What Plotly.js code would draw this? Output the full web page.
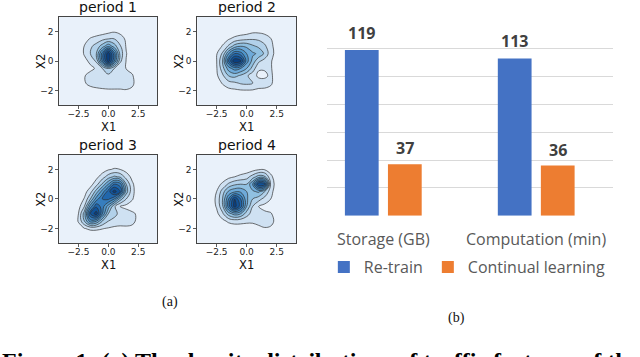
<!DOCTYPE html>
<html>
<head>
<meta charset="utf-8">
<script src="https://cdn.plot.ly/plotly-3.0.1.min.js"></script>
<style>
  html, body { margin: 0; padding: 0; background: #fff; }
  #graph { width: 640px; height: 357px; }
</style>
</head>
<body>
<div id="graph"></div>
<script>
// density grids (relative density, peak ~10)
var xGrid = [-3, -2.5, -2, -1.5, -1, -0.5, 0, 0.5, 1, 1.5, 2, 2.5, 3];
var yGrid = [-2.5, -2, -1.5, -1, -0.5, 0, 0.5, 1, 1.5, 2, 2.5];

var period1 = [
  [0, 0, 0.1, 0.2, 0.2, 0.2, 0.2, 0.2, 0.2, 0.2, 0.2, 0.1, 0],
  [0, 0.1, 0.4, 0.6, 0.75, 0.85, 0.9, 0.9, 0.9, 0.92, 0.8, 0.3, 0],
  [0, 0.2, 0.9, 1.3, 1.4, 1.4, 1.4, 1.4, 1.4, 1.5, 1.2, 0.5, 0],
  [0, 0.3, 0.95, 1.3, 1.4, 1.5, 1.7, 1.5, 1.4, 1.4, 1.1, 0.4, 0],
  [0, 0.2, 0.5, 0.8, 1.1, 2.0, 3.0, 2.0, 1.2, 0.98, 0.7, 0.2, 0],
  [0, 0.2, 0.75, 1.2, 2.2, 6.0, 9.6, 6.0, 2.2, 0.95, 0.4, 0.1, 0],
  [0, 0.4, 1.1, 2.0, 3.0, 6.5, 9.8, 6.5, 2.6, 1.05, 0.4, 0.1, 0],
  [0, 0.3, 1.05, 1.8, 2.4, 3.5, 4.8, 3.5, 2.1, 0.9, 0.3, 0.1, 0],
  [0, 0.1, 0.6, 1.1, 1.4, 1.7, 2.0, 2.0, 1.5, 0.8, 0.2, 0, 0],
  [0, 0, 0.1, 0.3, 0.4, 0.5, 0.7, 0.9, 0.7, 0.3, 0.1, 0, 0],
  [0, 0, 0, 0, 0, 0, 0, 0, 0, 0, 0, 0, 0]
];

var period2 = [
  [0, 0, 0.1, 0.2, 0.2, 0.2, 0.2, 0.2, 0.2, 0.2, 0.2, 0.1, 0],
  [0, 0.1, 0.4, 0.7, 0.8, 0.9, 0.92, 0.9, 0.8, 0.8, 0.6, 0.2, 0],
  [0, 0.4, 1.1, 1.6, 1.8, 2.1, 2.2, 2.0, 1.5, 1.4, 1.2, 0.4, 0],
  [0, 0.8, 1.8, 3.0, 3.3, 2.8, 2.2, 1.4, 0.8, 0.8, 1.2, 0.5, 0],
  [0.2, 0.9, 2.6, 4.5, 5.5, 5.0, 4.0, 2.6, 1.1, 1.1, 1.1, 0.5, 0],
  [0.2, 0.95, 3.0, 7.0, 9.9, 9.3, 5.5, 3.6, 2.2, 1.6, 1.1, 0.5, 0],
  [0.2, 0.9, 2.2, 5.0, 7.0, 6.5, 5.0, 4.2, 3.8, 2.8, 1.4, 0.6, 0],
  [0, 0.4, 1.1, 2.2, 3.5, 4.0, 3.8, 3.2, 2.8, 2.2, 1.3, 0.5, 0],
  [0, 0.1, 0.5, 0.9, 1.3, 1.6, 1.8, 1.9, 1.8, 1.5, 1.05, 0.4, 0],
  [0, 0, 0.1, 0.2, 0.3, 0.4, 0.5, 0.8, 0.8, 0.7, 0.4, 0.1, 0],
  [0, 0, 0, 0, 0, 0, 0, 0, 0, 0, 0, 0, 0]
];

var period3 = [
  [0, 0, 0.2, 0.3, 0.3, 0.3, 0.2, 0.2, 0.2, 0.2, 0.2, 0.1, 0],
  [0, 0.5, 0.95, 1.2, 1.2, 1.05, 0.9, 0.7, 0.6, 0.7, 0.7, 0.3, 0],
  [0, 1.1, 3.0, 5.5, 5.0, 3.0, 2.0, 1.8, 1.7, 1.6, 1.3, 0.7, 0],
  [0.2, 1.0, 3.5, 8.0, 9.6, 6.0, 3.0, 2.2, 1.8, 1.5, 1.2, 0.8, 0],
  [0.1, 0.6, 2.0, 5.5, 7.8, 6.5, 4.5, 2.2, 0.9, 0.7, 0.5, 0.2, 0],
  [0, 0.3, 1.1, 3.0, 5.5, 7.0, 7.2, 6.0, 3.5, 2.0, 1.1, 0.3, 0],
  [0, 0, 0.6, 1.6, 3.5, 5.5, 7.5, 9.5, 8.0, 3.5, 1.3, 0.4, 0],
  [0, 0, 0.2, 0.6, 1.6, 3.2, 5.0, 7.0, 6.5, 3.0, 1.2, 0.3, 0],
  [0, 0, 0, 0.2, 0.7, 1.5, 2.5, 3.2, 2.8, 1.6, 0.7, 0.1, 0],
  [0, 0, 0, 0, 0.1, 0.5, 0.9, 1.1, 1.0, 0.6, 0.2, 0, 0],
  [0, 0, 0, 0, 0, 0, 0.1, 0.4, 0.3, 0.1, 0, 0, 0]
];

var period4 = [
  [0, 0, 0, 0.1, 0.2, 0.2, 0.2, 0.2, 0.3, 0.3, 0.3, 0.1, 0],
  [0, 0, 0.2, 0.3, 0.4, 0.5, 0.5, 0.5, 0.7, 0.9, 0.8, 0.2, 0],
  [0, 0.3, 0.7, 1.2, 1.4, 1.3, 1.2, 1.2, 1.4, 1.6, 1.4, 0.6, 0],
  [0.2, 0.7, 1.8, 3.5, 4.5, 4.0, 2.5, 1.5, 1.1, 1.2, 1.1, 0.5, 0],
  [0.3, 1.1, 2.8, 6.5, 9.5, 7.5, 4.0, 2.0, 1.0, 0.7, 0.5, 0.1, 0],
  [0.4, 1.2, 3.0, 6.0, 9.0, 7.0, 4.2, 3.0, 2.4, 1.6, 1.0, 0.3, 0],
  [0.3, 1.0, 2.5, 4.2, 4.8, 4.8, 4.0, 3.8, 4.2, 3.0, 1.4, 0.3, 0],
  [0, 0.6, 1.2, 2.2, 2.8, 3.0, 3.0, 5.0, 9.0, 8.5, 1.8, 0.4, 0],
  [0, 0, 0.4, 0.7, 1.0, 1.3, 1.6, 2.5, 3.5, 3.2, 1.3, 0.3, 0],
  [0, 0, 0, 0.1, 0.2, 0.3, 0.4, 0.6, 0.9, 0.9, 0.5, 0.1, 0],
  [0, 0, 0, 0, 0, 0, 0, 0, 0, 0, 0, 0, 0]
];

var periodNames = ["period 1", "period 2", "period 3", "period 4"];

// bar chart values
var categories = ["Storage (GB)", "Computation (min)"];
var retrain = [119, 113];
var continual = [37, 36];

// one stop per filled band (bands sit at k/9 for levels 1..9)
var blues = [
  [0, "#e9f1fa"], [1 / 9, "#cfe1f2"], [2 / 9, "#b2d1ea"], [3 / 9, "#90c0e1"],
  [4 / 9, "#6eaad9"], [5 / 9, "#4f95ca"], [6 / 9, "#377ebe"], [7 / 9, "#2167ac"],
  [8 / 9, "#125297"], [1, "#0a3f80"]
];

function drawGraph() {
  var grids = [period1, period2, period3, period4];
  var xDomains = [[0.0927, 0.2458], [0.3083, 0.4625], [0.0927, 0.2458], [0.3083, 0.4625]];
  var yDomains = [[0.705, 0.953], [0.705, 0.953], [0.3185, 0.5667], [0.3185, 0.5667]];
  var data = [], layout, annotations = [], shapes = [];

  layout = {
    width: 640, height: 357,
    margin: {l: 0, r: 0, t: 0, b: 0},
    paper_bgcolor: "#fff", plot_bgcolor: "rgba(0,0,0,0)",
    font: {family: "DejaVu Sans", color: "#222"},
    barmode: "group", bargap: 0.437, bargroupgap: 0.216,
    showlegend: true,
    legend: {
      orientation: "h", x: 0.506, xanchor: "left", y: 0.252, yanchor: "middle",
      font: {family: "Open Sans", size: 16, color: "#595959"},
      bgcolor: "rgba(0,0,0,0)"
    }
  };

  // the four kde panels
  for (var i = 0; i < 4; i++) {
    var n = i === 0 ? "" : String(i + 1);
    data.push({
      type: "contour", x: xGrid, y: yGrid, z: grids[i],
      xaxis: "x" + n, yaxis: "y" + n,
      colorscale: blues, showscale: false, showlegend: false,
      autocontour: false,
      contours: {start: 1, end: 9, size: 1, coloring: "fill"},
      line: {color: "rgba(45,45,45,0.85)", width: 0.8, smoothing: 1.1},
      hoverinfo: "skip"
    });
    layout["xaxis" + n] = {
      domain: xDomains[i], anchor: "y" + n, range: [-4.1, 4.1],
      tick0: 0, dtick: 2.5, tickformat: ".1f",
      ticks: "outside", ticklen: 3, tickwidth: 0.8, tickcolor: "#333",
      ticklabelstandoff: -3,
      showline: true, mirror: true, linecolor: "#444", linewidth: 1,
      showgrid: false, zeroline: false,
      tickfont: {family: "DejaVu Sans", size: 9, color: "#222"}
    };
    layout["yaxis" + n] = {
      domain: yDomains[i], anchor: "x" + n, range: [-3, 3],
      tick0: 0, dtick: 2,
      ticks: "outside", ticklen: 3, tickwidth: 0.8, tickcolor: "#333",
      showline: true, mirror: true, linecolor: "#444", linewidth: 1,
      showgrid: false, zeroline: false,
      tickfont: {family: "DejaVu Sans", size: 9, color: "#222"}
    };
    shapes.push({
      type: "rect", layer: "below", xref: "x" + n + " domain", yref: "y" + n + " domain",
      x0: 0, x1: 1, y0: 0, y1: 1, fillcolor: "#e9f1fa", line: {width: 0}
    });
    annotations.push({
      text: periodNames[i], xref: "x" + n + " domain", yref: "y" + n + " domain",
      x: 0.5, y: 1, yshift: 9.5, yanchor: "middle", showarrow: false,
      font: {family: "DejaVu Sans", size: 14, color: "#111"}
    });
    annotations.push({
      text: "X1", xref: "x" + n + " domain", yref: "y" + n + " domain",
      x: 0.5, y: 0, yshift: -22, yanchor: "middle", showarrow: false,
      font: {family: "DejaVu Sans", size: 11.5, color: "#111"}
    });
    annotations.push({
      text: "X2", xref: "x" + n + " domain", yref: "y" + n + " domain",
      x: 0, xshift: -27.5, y: 0.5, textangle: -90, showarrow: false,
      font: {family: "DejaVu Sans", size: 11.5, color: "#111"}
    });
  }

  // bar chart (b)
  data.push({
    type: "bar", name: "Re-train", x: categories, y: retrain,
    xaxis: "x5", yaxis: "y5", marker: {color: "#4472c4"}, hoverinfo: "skip"
  });
  data.push({
    type: "bar", name: "Continual learning", x: categories, y: continual,
    xaxis: "x5", yaxis: "y5", marker: {color: "#ed7d31"}, hoverinfo: "skip"
  });
  layout.xaxis5 = {
    domain: [0.5105, 0.9573], anchor: "y5", type: "category",
    range: [-0.37, 1.5], showticklabels: false, ticks: "",
    showgrid: false, zeroline: false, showline: false
  };
  layout.yaxis5 = {
    domain: [0.3958, 0.9429], anchor: "x5", range: [0, 140.3], dtick: 20,
    showticklabels: false, ticks: "", showgrid: true,
    gridcolor: "#d9d9d9", gridwidth: 1, zeroline: false, showline: false
  };

  for (var k = 0; k < categories.length; k++) {
    annotations.push({
      text: "<b>" + retrain[k] + "</b>", xref: "x5", yref: "y5", x: categories[k], y: retrain[k],
      xshift: -21.5, yshift: 17, showarrow: false,
      font: {family: "Open Sans", size: 16, color: "#404040"}
    });
    annotations.push({
      text: "<b>" + continual[k] + "</b>", xref: "x5", yref: "y5", x: categories[k], y: continual[k],
      xshift: 21.5, yshift: 16, showarrow: false,
      font: {family: "Open Sans", size: 16, color: "#404040"}
    });
    annotations.push({
      text: categories[k], xref: "x5", yref: "paper", x: categories[k], y: 1 - 239 / 357,
      yanchor: "middle", showarrow: false,
      font: {family: "Open Sans", size: 16, color: "#595959"}
    });
  }

  // sub-figure labels and the caption line cut at the bottom
  annotations.push({
    text: "(a)", xref: "paper", yref: "paper", x: 160 / 640, y: 1 - 301.5 / 357,
    yanchor: "middle", showarrow: false,
    font: {family: "Liberation Serif", size: 14, color: "#111"}
  });
  annotations.push({
    text: "(b)", xref: "paper", yref: "paper", x: 467 / 640, y: 1 - 318 / 357,
    yanchor: "middle", showarrow: false,
    font: {family: "Liberation Serif", size: 14, color: "#111"}
  });
  annotations.push({
    text: "<b>Figure 1: (a) The density distributions of traffic features of the</b>",
    xref: "paper", yref: "paper", x: 0, y: 1 - 345.5 / 357,
    xanchor: "left", yanchor: "top", showarrow: false,
    font: {family: "Liberation Serif", size: 24, color: "#000"}
  });

  layout.annotations = annotations;
  layout.shapes = shapes;

  Plotly.newPlot("graph", data, layout, {staticPlot: true});
}

drawGraph();
</script>
</body>
</html>
